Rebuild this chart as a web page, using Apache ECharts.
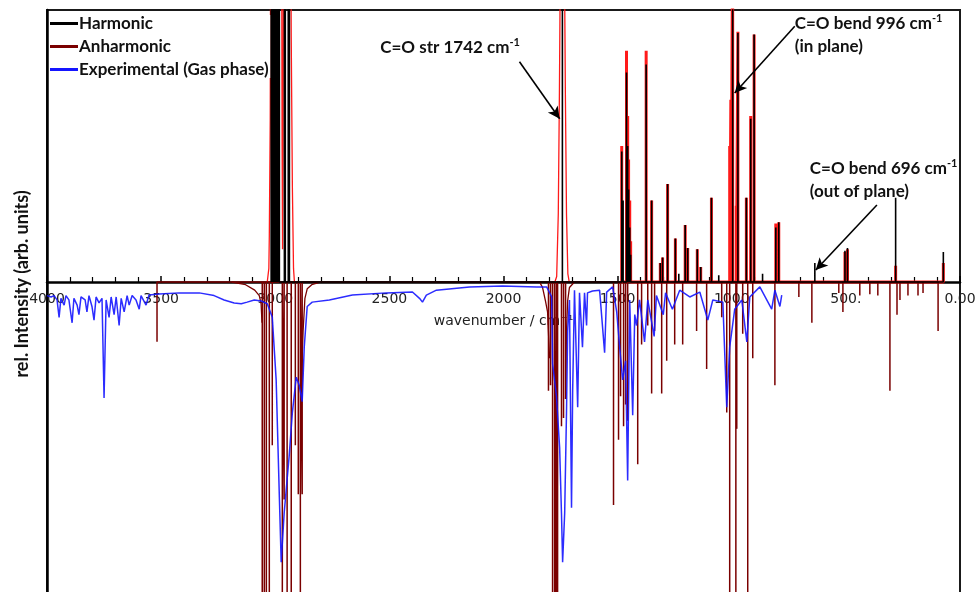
<!DOCTYPE html>
<html><head><meta charset="utf-8">
<script src="https://cdn.jsdelivr.net/npm/echarts@6/dist/echarts.min.js"></script>
<style>html,body{margin:0;padding:0;background:#fff}#c{width:978px;height:592px}</style>
</head><body><div id="c"></div>
<script>
// ---- data (wavenumber cm-1, relative intensity; top = +1) ----
const tickValues = [4000, 3500, 3000, 2500, 2000, 1500, 1000, 500, 0];
const tickText   = ['4000', '3500', '3000', '2500', '2000', '1500', '1000', '500.', '0.00'];
const legendNames = ['Harmonic', 'Anharmonic', 'Experimental (Gas phase)'];
const yTitle = 'rel. Intensity (arb. units)';
const xTitle = 'wavenumber / cm⁻¹';

// harmonic stick spectrum (black, upward)
const harmonicPeaks = [
  [3018,1.3],[3014,1.3],[3009,1.3],[3005,1.3],[3000,1.3],[2995,1.3],[2991,1.3],[2986,1.3],[2982,1.3],
  [2960,1.3],[2956,1.3],[2943,1.3],[2938,1.3],
  [1742,1.3],
  [1482,0.48],[1476,0.3],[1461,0.77],[1456,0.5],[1452,0.34],[1447,0.2],[1443,0.1],
  [1375,0.80],[1351,0.30],[1313,0.07],[1303,0.09],[1281,0.36],[1247,0.16],[1232,0.03],
  [1204,0.21],[1193,0.125],[1151,0.12],[1136,0.055],[1089,0.31],[1057,0.025],
  [996,1.3],[973,0.915],[936,0.31],[917,0.60],[902,0.91],[865,0.03],[807,0.2],[794,0.22],
  [636,0.07],[504,0.115],[493,0.125],[282,0.31],[73,0.11]
];
// broadened harmonic (red, upward): sticks and bands
const broadPeaks = [
  [1482,0.50],[1461,0.85],[1456,0.61],[1452,0.45],[1447,0.3],[1443,0.15],[1375,0.85],[1351,0.30],
  [1313,0.07],[1303,0.09],[1281,0.36],[1247,0.16],[1204,0.21],[1193,0.125],[1151,0.12],[1136,0.055],
  [1089,0.31],[1009,0.5],[1004,0.67],[996,1.3],[980,0.28],[973,0.92],[936,0.31],[917,0.61],[902,0.91],
  [807,0.215],[794,0.22],[504,0.11],[493,0.12],[282,0.06],[73,0.07]
];
const broadBand3000 = [
  [3035,0],[3028,0.05],[3026,0.17],[3022,0.6],[3020,1.3],[2972,1.3],[2970,0.5],[2968,0.12],
  [2966,0.5],[2964,1.3],[2932,1.3],[2930,0.9],[2925,0.35],[2920,0.05],[2916,0]
];
const broadBand1742 = [
  [1775,0],[1767,0.02],[1760,0.25],[1755,0.7],[1750,1.3],[1734,1.3],[1729,0.7],[1724,0.25],[1718,0.03],[1712,0]
];
// anharmonic (dark red, downward): sticks and envelopes
const anharmonicPeaks = [
  [3518,-0.22],
  [3057,-1.5],[3048,-1.5],[3039,-1.5],[3026,-1.5],[3013,-0.6],[2969,-1.5],[2961,-0.8],[2948,-1.5],
  [2930,-1.5],[2912,-0.6],[2899,-0.78],[2890,-1.5],[2882,-0.78],
  [1803,-0.4],[1794,-0.38],[1785,-1.5],[1776,-1.5],[1768,-1.5],[1763,-1.5],[1746,-0.53],[1737,-0.5],[1728,-0.43],
  [1518,-0.82],[1496,-0.58],[1487,-0.42],[1474,-0.53],[1465,-0.45],[1456,-0.51],[1412,-0.67],[1395,-0.23],
  [1368,-0.16],[1351,-0.41],[1338,-0.18],[1307,-0.41],[1285,-0.29],[1250,-0.23],[1215,-0.23],[1154,-0.18],
  [1110,-0.32],[1044,-0.13],[1022,-0.48],[1009,-1.5],[982,-1.5],[978,-0.54],[952,-0.19],[930,-1.5],[908,-0.28],
  [811,-0.38],[706,-0.055],[649,-0.15],[531,-0.04],[513,-0.11],[439,-0.05],[395,-0.045],[360,-0.05],
  [307,-0.40],[276,-0.12],[263,-0.066],[228,-0.05],[184,-0.05],[162,-0.04],[96,-0.18]
];
const anharmonicEnv3000 = [
  [3190,0],[3130,-0.01],[3090,-0.03],[3070,-0.05],[3062,-0.08],[3058,-0.15]
];
const anharmonicEnv2880 = [
  [2885,-0.35],[2878,-0.18],[2870,-0.06],[2860,-0.025],[2840,-0.01],[2800,0]
];
const anharmonicEnv1800 = [
  [1842,0],[1829,-0.02],[1816,-0.07],[1807,-0.11],[1798,-0.28]
];
const anharmonicEnv1720 = [
  [1728,-0.43],[1724,-0.18],[1719,-0.07],[1711,-0.02],[1689,0]
];
// experimental gas phase (blue, downward)
const experimental = [
  [4000,-0.05],[3982,-0.055],[3969,-0.05],[3956,-0.066],[3947,-0.13],[3939,-0.06],[3925,-0.085],[3917,-0.05],
  [3904,-0.066],[3890,-0.15],[3882,-0.06],[3868,-0.085],[3860,-0.12],[3851,-0.055],[3833,-0.066],[3825,-0.11],
  [3816,-0.05],[3803,-0.09],[3794,-0.14],[3785,-0.055],[3772,-0.077],[3759,-0.06],[3750,-0.426],[3741,-0.066],
  [3728,-0.13],[3719,-0.055],[3706,-0.12],[3697,-0.055],[3684,-0.16],[3675,-0.06],[3662,-0.11],[3649,-0.05],
  [3640,-0.085],[3627,-0.05],[3610,-0.066],[3596,-0.1],[3588,-0.05],[3566,-0.085],[3553,-0.048],
  [3509,-0.044],[3421,-0.04],[3333,-0.04],[3268,-0.05],[3224,-0.066],[3180,-0.077],[3149,-0.08],
  [3123,-0.074],[3092,-0.066],[3061,-0.07],[3035,-0.08],[3013,-0.13],[2996,-0.36],[2982,-0.79],
  [2974,-1.03],[2961,-0.85],[2939,-0.64],[2925,-0.48],[2908,-0.35],[2895,-0.38],[2882,-0.44],
  [2873,-0.24],[2860,-0.09],[2838,-0.074],[2763,-0.066],[2662,-0.048],[2513,-0.04],[2399,-0.037],
  [2368,-0.06],[2355,-0.074],[2338,-0.048],[2294,-0.03],[2149,-0.018],[2004,-0.015],[1855,-0.018],
  [1811,-0.018],[1789,-0.055],[1785,-0.3],[1768,-0.42],[1754,-0.61],[1746,-0.85],[1741,-1.03],
  [1732,-0.85],[1724,-0.48],[1719,-0.18],[1711,-0.066],[1702,-0.83],[1697,-0.4],[1689,-0.03],
  [1675,-0.46],[1667,-0.04],[1654,-0.24],[1645,-0.04],[1636,-0.16],[1632,-0.04],[1610,-0.033],
  [1579,-0.03],[1557,-0.26],[1548,-0.037],[1522,-0.018],[1504,-0.11],[1491,-0.24],[1478,-0.36],
  [1465,-0.29],[1456,-0.73],[1447,-0.066],[1434,-0.49],[1425,-0.12],[1417,-0.16],[1404,-0.066],
  [1382,-0.22],[1368,-0.066],[1340,-0.2],[1330,-0.05],[1300,-0.12],[1290,-0.04],[1260,-0.1],
  [1228,-0.03],[1184,-0.055],[1140,-0.037],[1105,-0.14],[1083,-0.066],[1039,-0.074],[1022,-0.46],
  [1009,-0.24],[987,-0.1],[956,-0.066],[934,-0.22],[921,-0.055],[877,-0.018],[825,-0.1],[811,-0.03],
  [789,-0.09],[781,-0.048]
];
// annotation anchors (data coordinates; text anchored by its top-left corner)
const arrows = [
  [[1930,0.81],[1754,0.60]],
  [[724,0.94],[987,0.695]],
  [[364,0.283],[632,0.044]]
];
const notes = [
  {at:[2540,0.906], lines:[['C=O str 1742 cm','-1']]},
  {at:[724,0.994], lines:[['C=O bend 996 cm','-1'],['(in plane)','']]},
  {at:[658,0.461], lines:[['C=O bend 696 cm','-1'],['(out of plane)','']]}
];

// ---- chart ----
function sticks(peaks){
  const s = peaks.slice().sort((a,b)=>b[0]-a[0]);
  const out = [];
  s.forEach(p=>{ out.push([p[0],0],[p[0],p[1]],[p[0],0]); });
  return out;
}
const W = 978, H = 592;
const G = {left:47, right:18, top:10, bottom:-6};
const YMAX = 1, YMIN = -1.1618;
const gridH = H - G.top - G.bottom;
const zeroFromBottom = gridH * (0 - YMIN) / (YMAX - YMIN);   // axis sits on the zero line
const chart = echarts.init(document.getElementById('c'), null, {renderer:'canvas'});
const lineBase = {type:'line', showSymbol:false, symbol:'none', animation:false, silent:true, clip:true};
chart.setOption({
  animation:false,
  backgroundColor:'#fff',
  grid:{left:G.left, right:G.right, top:G.top, bottom:G.bottom, containLabel:false, outerBoundsMode:'none',
    show:true, borderColor:'#1a1a1a', borderWidth:2, backgroundColor:'transparent'},
  legend:{
    left:50, top:15, orient:'vertical', itemGap:6, itemWidth:28, itemHeight:3, icon:'rect',
    backgroundColor:'#fff', padding:[0,2,0,0],
    data:legendNames,
    textStyle:{fontFamily:'Lato', fontWeight:'bold', fontSize:17, color:'#111', padding:[0,0,0,-4]}
  },
  xAxis:{
    type:'value', min:0, max:4000, interval:500, inverse:true, position:'bottom',
    offset:-zeroFromBottom,
    axisLine:{onZero:false, lineStyle:{color:'#000', width:2.5}},
    axisTick:{show:true, inside:true, length:6, lineStyle:{color:'#000', width:1.5}},
    minorTick:{show:true, splitNumber:5, length:5, lineStyle:{color:'#000', width:1.2}},
    splitLine:{show:false},
    axisLabel:{margin:10, fontFamily:'DejaVu Sans', fontSize:14, color:'#222',
      formatter:v=>{const i=tickValues.indexOf(v); return i>=0?tickText[i]:'';}},
    name:xTitle, nameLocation:'middle', nameGap:32,
    nameTextStyle:{fontFamily:'DejaVu Sans', fontSize:14, color:'#222'}
  },
  yAxis:{
    type:'value', min:YMIN, max:YMAX,
    axisLine:{show:true, onZero:false, lineStyle:{color:'#000', width:2.5}},
    axisTick:{show:false}, axisLabel:{show:false}, splitLine:{show:false}
  },
  series:[
    Object.assign({}, lineBase, {name:'Anharmonic', data:sticks(anharmonicPeaks), z:3,
      lineStyle:{color:'#7a0000', width:1.5}, itemStyle:{color:'#7a0000'}}),
    Object.assign({}, lineBase, {name:'Anharmonic', data:anharmonicEnv3000, z:3, lineStyle:{color:'#7a0000', width:1.3}, itemStyle:{color:'#7a0000'}}),
    Object.assign({}, lineBase, {name:'Anharmonic', data:anharmonicEnv2880, z:3, lineStyle:{color:'#7a0000', width:1.3}, itemStyle:{color:'#7a0000'}}),
    Object.assign({}, lineBase, {name:'Anharmonic', data:anharmonicEnv1800, z:3, lineStyle:{color:'#7a0000', width:1.3}, itemStyle:{color:'#7a0000'}}),
    Object.assign({}, lineBase, {name:'Anharmonic', data:anharmonicEnv1720, z:3, lineStyle:{color:'#7a0000', width:1.3}, itemStyle:{color:'#7a0000'}}),
    Object.assign({}, lineBase, {name:'Experimental (Gas phase)', data:experimental, z:4,
      lineStyle:{color:'#1515ff', width:1.5, opacity:0.9}, itemStyle:{color:'#1515ff'}}),
    Object.assign({}, lineBase, {name:'Broadened', data:sticks(broadPeaks), z:2,
      lineStyle:{color:'#ff1a1a', width:3}, itemStyle:{color:'#ff1a1a'}}),
    Object.assign({}, lineBase, {name:'Broadened', data:broadBand3000, z:2,
      lineStyle:{color:'#ff1a1a', width:1.3}, itemStyle:{color:'#ff1a1a'}}),
    Object.assign({}, lineBase, {name:'Broadened', data:broadBand1742, z:2,
      lineStyle:{color:'#ff1a1a', width:1.3}, itemStyle:{color:'#ff1a1a'}}),
    Object.assign({}, lineBase, {name:'Harmonic', data:sticks(harmonicPeaks), z:5,
      lineStyle:{color:'#000', width:1.6}, itemStyle:{color:'#000'},
      markLine:{silent:true, symbol:['none','arrow'], symbolSize:[9,12], animation:false,
        lineStyle:{color:'#000', width:1.6, type:'solid'}, label:{show:false},
        data:arrows.map(a=>[{coord:a[0]},{coord:a[1]}])}})
  ]
});
// annotation texts placed at data coordinates; y-axis title beside the axis
const gfx = notes.map(n=>{
  const p = chart.convertToPixel({gridIndex:0}, n.at);
  const txt = n.lines.map(l=> '{a|'+l[0]+'}' + (l[1]?'{s|'+l[1]+'}':'')).join('\n');
  return {type:'text', x:p[0], y:p[1], z:100, style:{
    text:txt, verticalAlign:'top', align:'left', fill:'#111',
    rich:{
      a:{fontFamily:'Lato', fontWeight:'bold', fontSize:17, lineHeight:23, fill:'#111'},
      s:{fontFamily:'Lato', fontWeight:'bold', fontSize:11, lineHeight:23, fill:'#111', padding:[0,0,10,0]}
    }}};
});
gfx.push({type:'text', x:22, y:284, rotation:Math.PI/2, z:100, style:{
  text:yTitle, align:'center', verticalAlign:'middle', fill:'#111',
  fontFamily:'Lato', fontWeight:'bold', fontSize:18}});
chart.setOption({graphic:gfx});
</script></body></html>
